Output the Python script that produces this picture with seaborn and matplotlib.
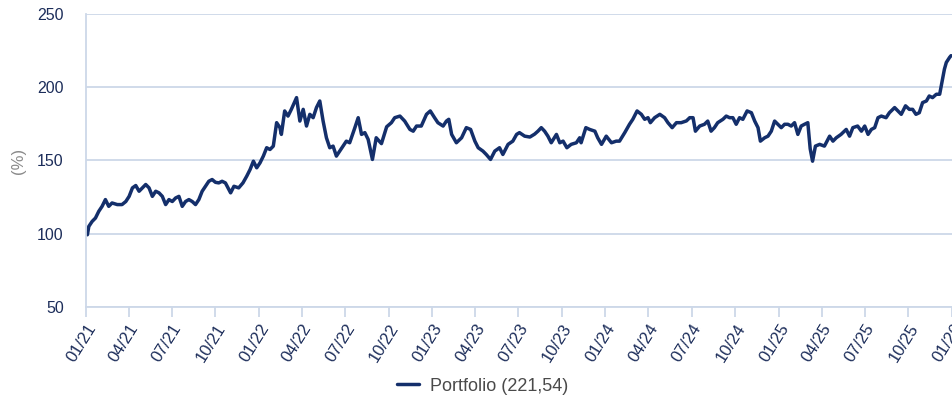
import matplotlib
matplotlib.use("Agg")
import matplotlib.pyplot as plt
import matplotlib.dates as mdates
import pandas as pd
import seaborn as sns

# Portfolio performance, indexed to 100 at the start of 2021
dates = [
    "2021-01-01", "2021-01-04", "2021-01-07", "2021-01-14", "2021-01-21", "2021-01-28",
    "2021-02-04", "2021-02-11", "2021-02-18", "2021-02-25", "2021-03-08", "2021-03-18",
    "2021-03-26", "2021-04-02", "2021-04-09", "2021-04-16", "2021-04-23", "2021-04-30",
    "2021-05-07", "2021-05-14", "2021-05-21", "2021-05-28", "2021-06-04", "2021-06-11",
    "2021-06-18", "2021-06-25", "2021-07-02", "2021-07-09", "2021-07-16", "2021-07-23",
    "2021-07-30", "2021-08-06", "2021-08-13", "2021-08-20", "2021-08-27", "2021-09-03",
    "2021-09-10", "2021-09-17", "2021-09-24", "2021-10-01", "2021-10-08", "2021-10-15",
    "2021-10-22", "2021-11-02", "2021-11-09", "2021-11-19", "2021-11-28", "2021-12-06",
    "2021-12-13", "2021-12-20", "2021-12-27",
    "2022-01-03", "2022-01-10", "2022-01-17", "2022-01-24", "2022-01-31", "2022-02-07",
    "2022-02-14", "2022-02-17", "2022-02-24", "2022-03-03", "2022-03-10", "2022-03-21",
    "2022-03-28", "2022-04-04", "2022-04-11", "2022-04-18", "2022-04-25", "2022-05-02",
    "2022-05-09", "2022-05-16", "2022-05-23", "2022-05-30", "2022-06-06", "2022-06-13",
    "2022-06-20", "2022-06-27", "2022-07-04", "2022-07-11", "2022-07-22", "2022-07-29",
    "2022-08-05", "2022-08-12", "2022-08-19", "2022-08-28", "2022-09-05", "2022-09-16",
    "2022-09-27", "2022-10-07", "2022-10-14", "2022-10-25", "2022-11-04", "2022-11-15",
    "2022-11-22", "2022-11-29", "2022-12-09", "2022-12-20", "2022-12-28",
    "2023-01-06", "2023-01-13", "2023-01-24", "2023-01-31", "2023-02-05", "2023-02-11",
    "2023-02-21", "2023-03-04", "2023-03-14", "2023-03-23", "2023-04-01", "2023-04-08",
    "2023-04-18", "2023-04-25", "2023-05-04", "2023-05-13", "2023-05-23", "2023-05-30",
    "2023-06-10", "2023-06-20", "2023-06-28", "2023-07-04", "2023-07-15", "2023-07-26",
    "2023-08-05", "2023-08-12", "2023-08-19", "2023-08-26", "2023-09-02", "2023-09-09",
    "2023-09-20", "2023-09-27", "2023-10-04", "2023-10-12", "2023-10-21", "2023-11-01",
    "2023-11-08", "2023-11-11", "2023-11-21", "2023-11-29", "2023-12-10", "2023-12-16",
    "2023-12-24",
    "2024-01-03", "2024-01-14", "2024-01-24", "2024-01-31", "2024-02-11", "2024-02-21",
    "2024-02-28", "2024-03-08", "2024-03-17", "2024-03-24", "2024-03-31", "2024-04-05",
    "2024-04-14", "2024-04-25", "2024-05-05", "2024-05-12", "2024-05-21", "2024-05-30",
    "2024-06-09", "2024-06-20", "2024-06-27", "2024-07-04", "2024-07-09", "2024-07-18",
    "2024-07-28", "2024-08-04", "2024-08-11", "2024-08-18", "2024-08-25", "2024-09-05",
    "2024-09-12", "2024-09-19", "2024-09-26", "2024-10-03", "2024-10-10", "2024-10-17",
    "2024-10-26", "2024-11-04", "2024-11-11", "2024-11-18", "2024-11-23", "2024-12-02",
    "2024-12-09", "2024-12-16", "2024-12-23", "2024-12-30",
    "2025-01-06", "2025-01-13", "2025-01-20", "2025-01-27", "2025-02-03", "2025-02-10",
    "2025-02-17", "2025-02-24", "2025-03-03", "2025-03-08", "2025-03-13", "2025-03-19",
    "2025-03-28", "2025-04-07", "2025-04-18", "2025-04-25", "2025-05-02", "2025-05-12",
    "2025-05-23", "2025-05-30", "2025-06-06", "2025-06-16", "2025-06-24", "2025-07-01",
    "2025-07-08", "2025-07-15", "2025-07-22", "2025-07-29", "2025-08-05", "2025-08-15",
    "2025-08-22", "2025-09-02", "2025-09-09", "2025-09-16", "2025-09-25", "2025-10-03",
    "2025-10-10", "2025-10-17", "2025-10-24", "2025-10-31", "2025-11-08", "2025-11-14",
    "2025-11-21", "2025-11-29", "2025-12-06", "2025-12-12", "2025-12-16", "2025-12-20",
    "2025-12-27", "2025-12-30",
]

portfolio = [
    100.0, 99.3, 105.0, 108.4, 110.7, 115.3,
    118.7, 123.3, 118.7, 121.0, 119.9, 119.9,
    122.0, 125.5, 131.3, 132.9, 129.0, 131.3,
    133.6, 131.3, 125.5, 129.0, 127.9, 125.5,
    119.9, 123.3, 122.0, 124.4, 125.5, 118.7,
    122.0, 123.3, 122.0, 119.9, 123.3, 129.0,
    132.4, 135.8, 137.0, 135.1, 134.7, 135.8,
    134.7, 127.9, 132.4, 131.3, 134.7, 139.3,
    143.8, 149.5, 145.0,
    148.4, 153.0, 158.7, 157.5, 159.8, 175.8,
    172.4, 167.8, 183.8, 180.3, 184.9, 192.9,
    176.9, 184.9, 173.5, 181.5, 179.2, 186.1,
    190.6, 176.9, 165.5, 158.7, 159.8, 153.0,
    156.4, 159.8, 163.2, 162.1, 172.4, 179.2,
    167.8, 169.0, 164.4, 150.7, 165.5, 161.5,
    173.0, 175.8, 179.2, 180.3, 176.9, 171.2,
    170.0, 173.5, 173.5, 181.5, 183.8,
    179.2, 175.8, 173.5, 176.9, 178.1, 167.8,
    162.1, 165.5, 172.4, 171.2, 163.2, 158.7,
    156.4, 154.1, 150.7, 156.4, 158.7, 154.1,
    161.0, 163.2, 167.8, 169.0, 166.6, 166.0,
    168.0, 170.0, 172.4, 170.0, 166.6, 162.1,
    167.8, 162.1, 163.2, 158.7, 161.0, 162.1,
    165.5, 162.1, 172.4, 171.2, 170.0, 165.5,
    161.0,
    166.6, 162.1, 163.2, 163.2, 169.0, 174.7,
    178.1, 183.8, 181.5, 178.1, 179.2, 175.8,
    179.2, 181.5, 179.2, 175.8, 172.4, 175.8,
    175.8, 177.0, 179.2, 179.2, 170.0, 173.5,
    174.7, 176.9, 170.0, 172.4, 175.8, 178.1,
    180.3, 179.2, 179.2, 174.7, 179.2, 178.1,
    183.8, 182.6, 176.9, 172.4, 163.2, 165.5,
    166.6, 170.0, 176.9, 174.7,
    172.4, 174.7, 174.7, 173.5, 175.8, 167.8,
    173.5, 174.7, 175.8, 158.0, 149.5, 159.8,
    161.0, 159.8, 166.6, 163.2, 165.5, 167.8,
    171.2, 166.6, 172.4, 173.5, 170.0, 173.5,
    167.8, 171.2, 172.4, 179.2, 180.3, 179.2,
    182.6, 186.1, 183.8, 181.5, 187.3, 184.9,
    184.9, 181.5, 182.6, 189.5, 190.6, 194.0,
    192.9, 195.2, 195.2, 205.5, 212.3, 216.9,
    220.4, 221.54,
]

series_label = "Portfolio (221,54)"
y_ticks = [50, 100, 150, 200, 250]
x_start, x_end = "2021-01-01", "2026-01-01"

df = pd.DataFrame({"date": pd.to_datetime(dates), "value": portfolio})

NAVY = "#142f6b"
GRID = "#cdd8e8"
TEXT = "#1c2d5a"

sns.set_theme(style="white")
plt.rcParams["font.family"] = ["Liberation Sans", "DejaVu Sans"]

fig = plt.figure(figsize=(9.52, 3.99), dpi=100)
ax = fig.add_axes([0.0903, 0.2306, 0.9097, 0.7344])

sns.lineplot(data=df, x="date", y="value", ax=ax, color=NAVY,
             linewidth=2.5, label=series_label, legend=False)

ax.set_ylim(50, 250)
ax.set_yticks(y_ticks)
ax.set_xlim(pd.Timestamp(x_start), pd.Timestamp(x_end))
ax.xaxis.set_major_locator(mdates.MonthLocator(bymonth=[1, 4, 7, 10]))
ax.xaxis.set_major_formatter(mdates.DateFormatter("%m/%y"))

ax.yaxis.grid(True, color=GRID, linewidth=1.3)
ax.xaxis.grid(False)
for side in ("top", "right"):
    ax.spines[side].set_visible(False)
for side in ("left", "bottom"):
    ax.spines[side].set_color(GRID)
    ax.spines[side].set_linewidth(1.3)

ax.tick_params(axis="x", which="major", bottom=True, length=7, width=1.3,
               color=GRID, labelsize=12, labelcolor=TEXT, pad=3)
ax.tick_params(axis="y", left=False, labelsize=11.5, labelcolor=TEXT, pad=10)
for lbl in ax.get_xticklabels():
    lbl.set_rotation(58)
    lbl.set_ha("right")
    lbl.set_rotation_mode("anchor")

ax.set_xlabel("")
ax.set_ylabel("(%)", color="#8a8a8a", fontsize=12)
ax.yaxis.set_label_coords(-0.069, 0.5)

handles, labels = ax.get_legend_handles_labels()
fig.legend(handles, labels, loc="center", bbox_to_anchor=(0.507, 0.032),
           frameon=False, fontsize=13, labelcolor="#4a4a4a",
           handlelength=1.2, handletextpad=0.6)

fig.savefig("out.png", dpi=100)
